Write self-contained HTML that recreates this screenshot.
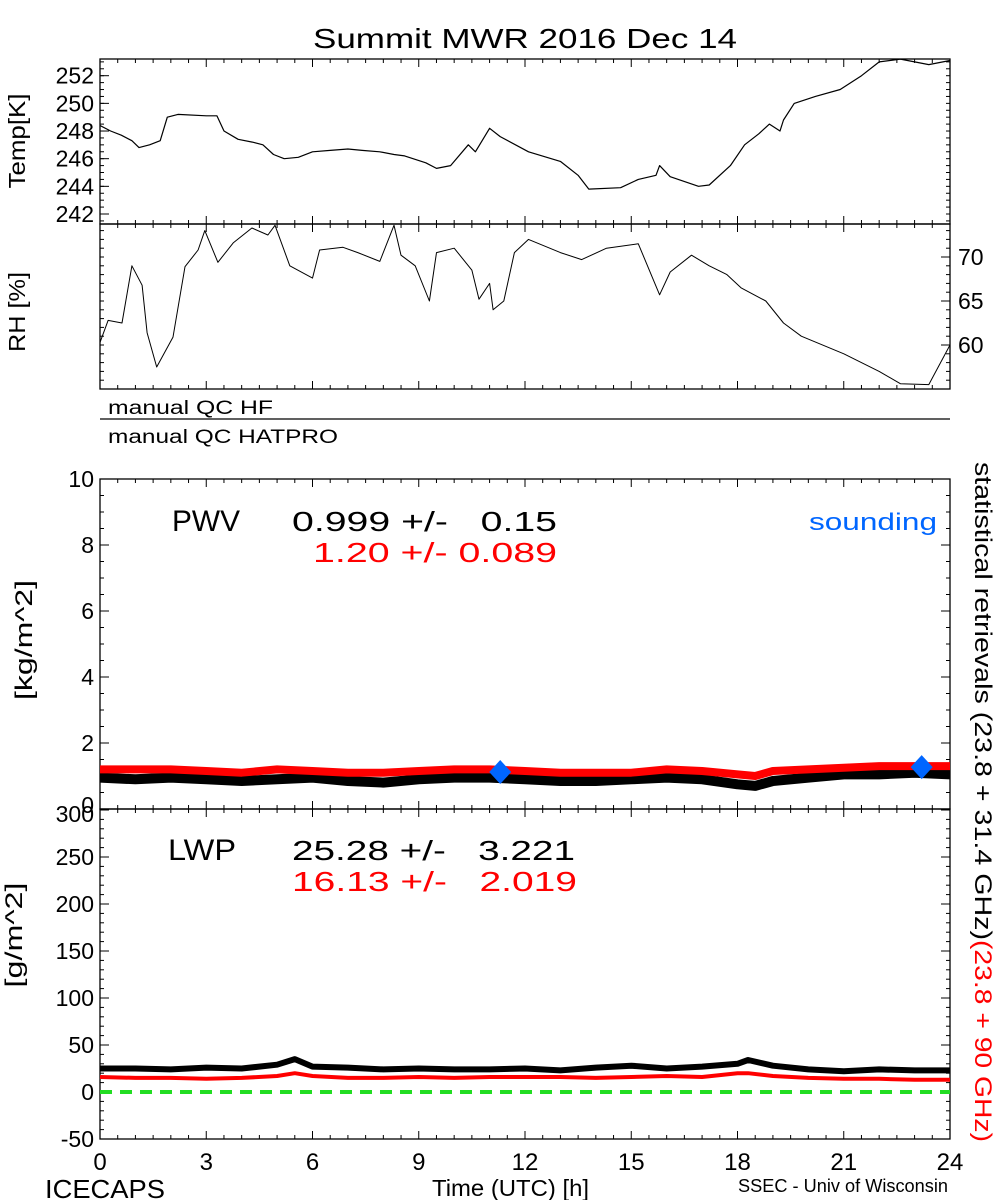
<!DOCTYPE html>
<html><head><meta charset="utf-8"><style>
body{margin:0;background:#fff;width:1000px;height:1200px;overflow:hidden}
svg{display:block;font-family:"Liberation Sans",sans-serif}
</style></head><body>
<svg id="c" width="1000" height="1200" viewBox="0 0 1000 1200">
<text x="313" y="48" font-size="28" textLength="424" lengthAdjust="spacingAndGlyphs">Summit MWR 2016 Dec 14</text>
</svg>
<script>
// ---- data ----
const tempTimes=[0,0.3,0.6,0.9,1.1,1.4,1.7,1.9,2.2,3.0,3.3,3.5,3.9,4.3,4.6,4.9,5.2,5.6,6.0,6.5,7.0,7.4,7.9,8.3,8.6,9.2,9.5,9.9,10.4,10.6,11.0,11.3,12.1,13.0,13.5,13.8,14.7,15.2,15.7,15.8,16.1,16.9,17.2,17.8,18.2,18.6,18.9,19.2,19.3,19.6,20.2,20.9,21.5,22.0,22.6,23.4,24];
const tempVals=[248.4,248,247.7,247.3,246.8,247,247.3,249,249.2,249.1,249.1,248,247.4,247.2,247,246.3,246,246.1,246.5,246.6,246.7,246.6,246.5,246.3,246.2,245.7,245.3,245.5,247,246.5,248.2,247.6,246.5,245.8,244.8,243.8,243.9,244.5,244.8,245.5,244.7,244,244.1,245.5,247,247.8,248.5,248,248.8,250,250.5,251,252,253,253.2,252.8,253.1];
const rhTimes=[0,0.23,0.62,0.9,1.19,1.33,1.6,2.06,2.4,2.77,2.96,3.33,3.76,4.29,4.74,4.94,5.36,6.0,6.2,6.86,7.28,7.9,8.3,8.5,8.9,9.3,9.5,10.0,10.5,10.7,11.0,11.1,11.4,11.7,12.1,13.0,13.6,14.3,15.2,15.8,16.1,16.7,17.2,17.7,18.1,18.8,19.3,19.8,21.0,22.0,22.6,23.4,24];
const rhVals=[60.3,62.8,62.5,69,66.8,61.4,57.5,60.9,68.9,70.8,73,69.4,71.6,73.3,72.5,73.6,69,67.6,70.8,71.1,70.5,69.5,73.6,70.2,69,65,70.5,71,68.5,65.2,67,64,65,70.5,72,70.5,69.7,71,71.5,65.7,68.3,70.2,69,68,66.5,65,62.5,61,59,57,55.6,55.5,60];
const pwvTimes=[0,1,2,3,4,5,6,7,8,9,10,11,12,13,14,15,16,17,18,18.5,19,20,21,22,23,24];
const pwvBlack=[0.95,0.9,0.95,0.9,0.85,0.9,0.95,0.85,0.8,0.9,0.95,0.95,0.9,0.85,0.85,0.9,0.95,0.9,0.75,0.7,0.85,0.95,1.05,1.05,1.1,1.05];
const pwvRed=[1.2,1.2,1.2,1.15,1.1,1.2,1.15,1.1,1.1,1.15,1.2,1.2,1.15,1.1,1.1,1.1,1.2,1.15,1.05,1.0,1.15,1.2,1.25,1.3,1.3,1.3];
const soundTimes=[11.3,23.2];
const soundVals=[1.12,1.27];
const lwpTimes=[0,1,2,3,4,5,5.5,6,7,8,9,10,11,12,13,14,15,16,17,18,18.3,19,20,21,22,23,24];
const lwpBlack=[25,25,24,26,25,29,35,27,26,24,25,24,24,25,23,26,28,25,27,30,34,28,24,22,24,23,23];
const lwpRed=[16,15,15,14,15,17,20,17,15,15,16,15,16,16,16,15,16,17,16,20,20,17,15,14,14,13,13];
const tempTicks=[242,244,246,248,250,252];
const rhTicks=[60,65,70];
const pwvTicks=[0,2,4,6,8,10];
const lwpTicks=[-50,0,50,100,150,200,250,300];
const hourTicks=[0,3,6,9,12,15,18,21,24];

const svg=document.getElementById('c');
const NS='http://www.w3.org/2000/svg';
const X0=100,X1=950;
const xs=h=>X0+(X1-X0)*h/24;
function mk(tag,attrs,parent){const e=document.createElementNS(NS,tag);for(const k in attrs)e.setAttribute(k,attrs[k]);(parent||svg).appendChild(e);return e;}
function lin(d0,d1,p0,p1){return v=>p0+(v-d0)*(p1-p0)/(d1-d0);}
const yT=lin(242,252,214,75.7), yR=lin(60,70,345,257), yP=lin(0,10,809,479), yL=lin(0,300,1092,810);

function panel(name,top,bot){
  const r=mk('rect',{x:X0,y:top,width:X1-X0,height:bot-top,fill:'none',stroke:'#000','stroke-width':1.3});
  
  
  for(let h=0;h<=24;h+=0.5){
    const L=(h%3===0)?8:4;
    mk('line',{x1:xs(h),x2:xs(h),y1:top,y2:top+L,stroke:'#000'});
    mk('line',{x1:xs(h),x2:xs(h),y1:bot,y2:bot-L,stroke:'#000'});
  }
}
function yticks(vals,fn,side,minorStep,lo,hi,labels,top,bot,name,dy){
  const xe=side==='left'?X0:X1, dir=side==='left'?1:-1;
  for(let v=lo;v<=hi+1e-9;v+=minorStep){const y=fn(v);if(y<top-0.5||y>bot+0.5)continue;mk('line',{x1:xe,x2:xe+dir*4,y1:y,y2:y,stroke:'#000'});}
  vals.forEach(v=>{const y=fn(v);
    mk('line',{x1:xe,x2:xe+dir*9,y1:y,y2:y,stroke:'#000'});
    if(labels){let off=8;if(dy&&dy[v]!==undefined)off+=dy[v];
      const t=mk('text',{x:side==='left'?X0-6:X1+8,y:y+off,'font-size':23,'text-anchor':side==='left'?'end':'start'});t.textContent=v;
      
      }
  });
}
function path(ts,vs,fx,fy,color,w,name,dash){
  let d='';ts.forEach((t,i)=>{d+=(i?'L':'M')+fx(t).toFixed(1)+','+fy(vs[i]).toFixed(1);});
  const p=mk('path',{d:d,fill:'none',stroke:color,'stroke-width':w,'stroke-linejoin':'round'});
  if(dash)p.setAttribute('stroke-dasharray',dash);
  
  
}
function rtext(x,y,txt,size,name,color,rot,len){
  const t=mk('text',{x:x,y:y,'font-size':size,'text-anchor':'middle',fill:color||'#000',transform:`rotate(${rot||-90} ${x} ${y})`});t.textContent=txt;
  if(len){t.setAttribute('textLength',len);t.setAttribute('lengthAdjust','spacingAndGlyphs');}
  
  
  return t;
}
function txt(x,y,s,size,color,name,anchor,len){const t=mk('text',{x:x,y:y,'font-size':size,fill:color,'text-anchor':anchor||'start'});t.textContent=s;
  t.setAttribute('xml:space','preserve');t.style.whiteSpace='pre';
  if(len){t.setAttribute('textLength',len);t.setAttribute('lengthAdjust','spacingAndGlyphs');}
  
  }

// Temp panel
panel('temp-panel',59,224);
yticks(tempTicks,yT,'left',0.5,241.5,253,true,59,224,'temp');
yticks([],yT,'right',0.5,241.5,253,false,59,224,'temp');
path(tempTimes,tempVals,xs,yT,'#000',1.2,'temp-line');
rtext(25,141,'Temp[K]',23,'temp-axis-title',null,-90,95);
// RH panel
panel('rh-panel',224,389);
yticks(rhTicks,yR,'right',1,55,74,true,224,389,'rh');
yticks([],yR,'left',1,55,74,false,224,389,'rh');
path(rhTimes,rhVals,xs,yR,'#000',1,'rh-line');
rtext(25,312,'RH [%]',23,'rh-axis-title',null,-90,80);
// QC
txt(108,414,'manual QC HF',19,'#000','qc-hf-label','start',165);
mk('line',{x1:X0,x2:X1,y1:419,y2:419,stroke:'#000','stroke-width':1.2});
txt(108,443,'manual QC HATPRO',19,'#000','qc-hatpro-label','start',230);
// PWV panel
panel('pwv-panel',479,809);
yticks(pwvTicks,yP,'left',0.5,0,10,true,479,809,'pwv',{0:-4});
yticks(pwvTicks,yP,'right',0.5,0,10,false,479,809,'pwv');
path(pwvTimes,pwvBlack,xs,yP,'#000',10,'pwv-black-line');
path(pwvTimes,pwvRed,xs,yP,'#f00',8,'pwv-red-line');
soundTimes.forEach((t,i)=>{const x=xs(t),y=yP(soundVals[i]);
  const d=mk('polygon',{points:`${x},${y-12} ${x+11},${y} ${x},${y+12} ${x-11},${y}`,fill:'#0066ff'});
  
  });
rtext(32,640,'[kg/m^2]',24,'pwv-axis-title',null,-90,120);
txt(172,531,'PWV',30,'#000','pwv-label','start',68);
txt(292,531,'0.999 +/-   0.15',28,'#000','pwv-black-stat','start',265);
txt(313,562,'1.20 +/- 0.089',28,'#f00','pwv-red-stat','start',244);
txt(937,530,'sounding',24,'#0066ff','sounding-legend','end',128);
// LWP panel
panel('lwp-panel',809,1139);
yticks(lwpTicks,yL,'left',10,-50,300,true,809,1139,'lwp',{300:4});
yticks(lwpTicks,yL,'right',10,-50,300,false,809,1139,'lwp');
path(lwpTimes,lwpBlack,xs,yL,'#000',6,'lwp-black-line');
path(lwpTimes,lwpRed,xs,yL,'#f00',4,'lwp-red-line');
path([0,24],[0,0],xs,yL,'#22dd22',4,'zero-line','12,8');
rtext(22,935,'[g/m^2]',24,'lwp-axis-title',null,-90,105);
txt(168,860,'LWP',30,'#000','lwp-label','start',68);
txt(292,860,'25.28 +/-   3.221',28,'#000','lwp-black-stat','start',283);
txt(292,891,'16.13 +/-   2.019',28,'#f00','lwp-red-stat','start',285);
// x labels
hourTicks.forEach(h=>{const t=mk('text',{x:xs(h),y:1170,'font-size':24,'text-anchor':'middle'});t.textContent=h;
  
  });
txt(432,1196,'Time (UTC) [h]',23,'#000','x-axis-title','start',157);
txt(45,1198,'ICECAPS',26,'#000','icecaps-label','start',120);
txt(738,1192,'SSEC - Univ of Wisconsin',18,'#000','ssec-label','start',210);
// right rotated text
rtext(975,701,'statistical retrievals (23.8 + 31.4 GHz)',24,'stat-retrieval-label','#000',90,478);
rtext(975,1041,'(23.8 + 90 GHz)',24,'hf-retrieval-label','#f00',90,202);
</script>
</body></html>
